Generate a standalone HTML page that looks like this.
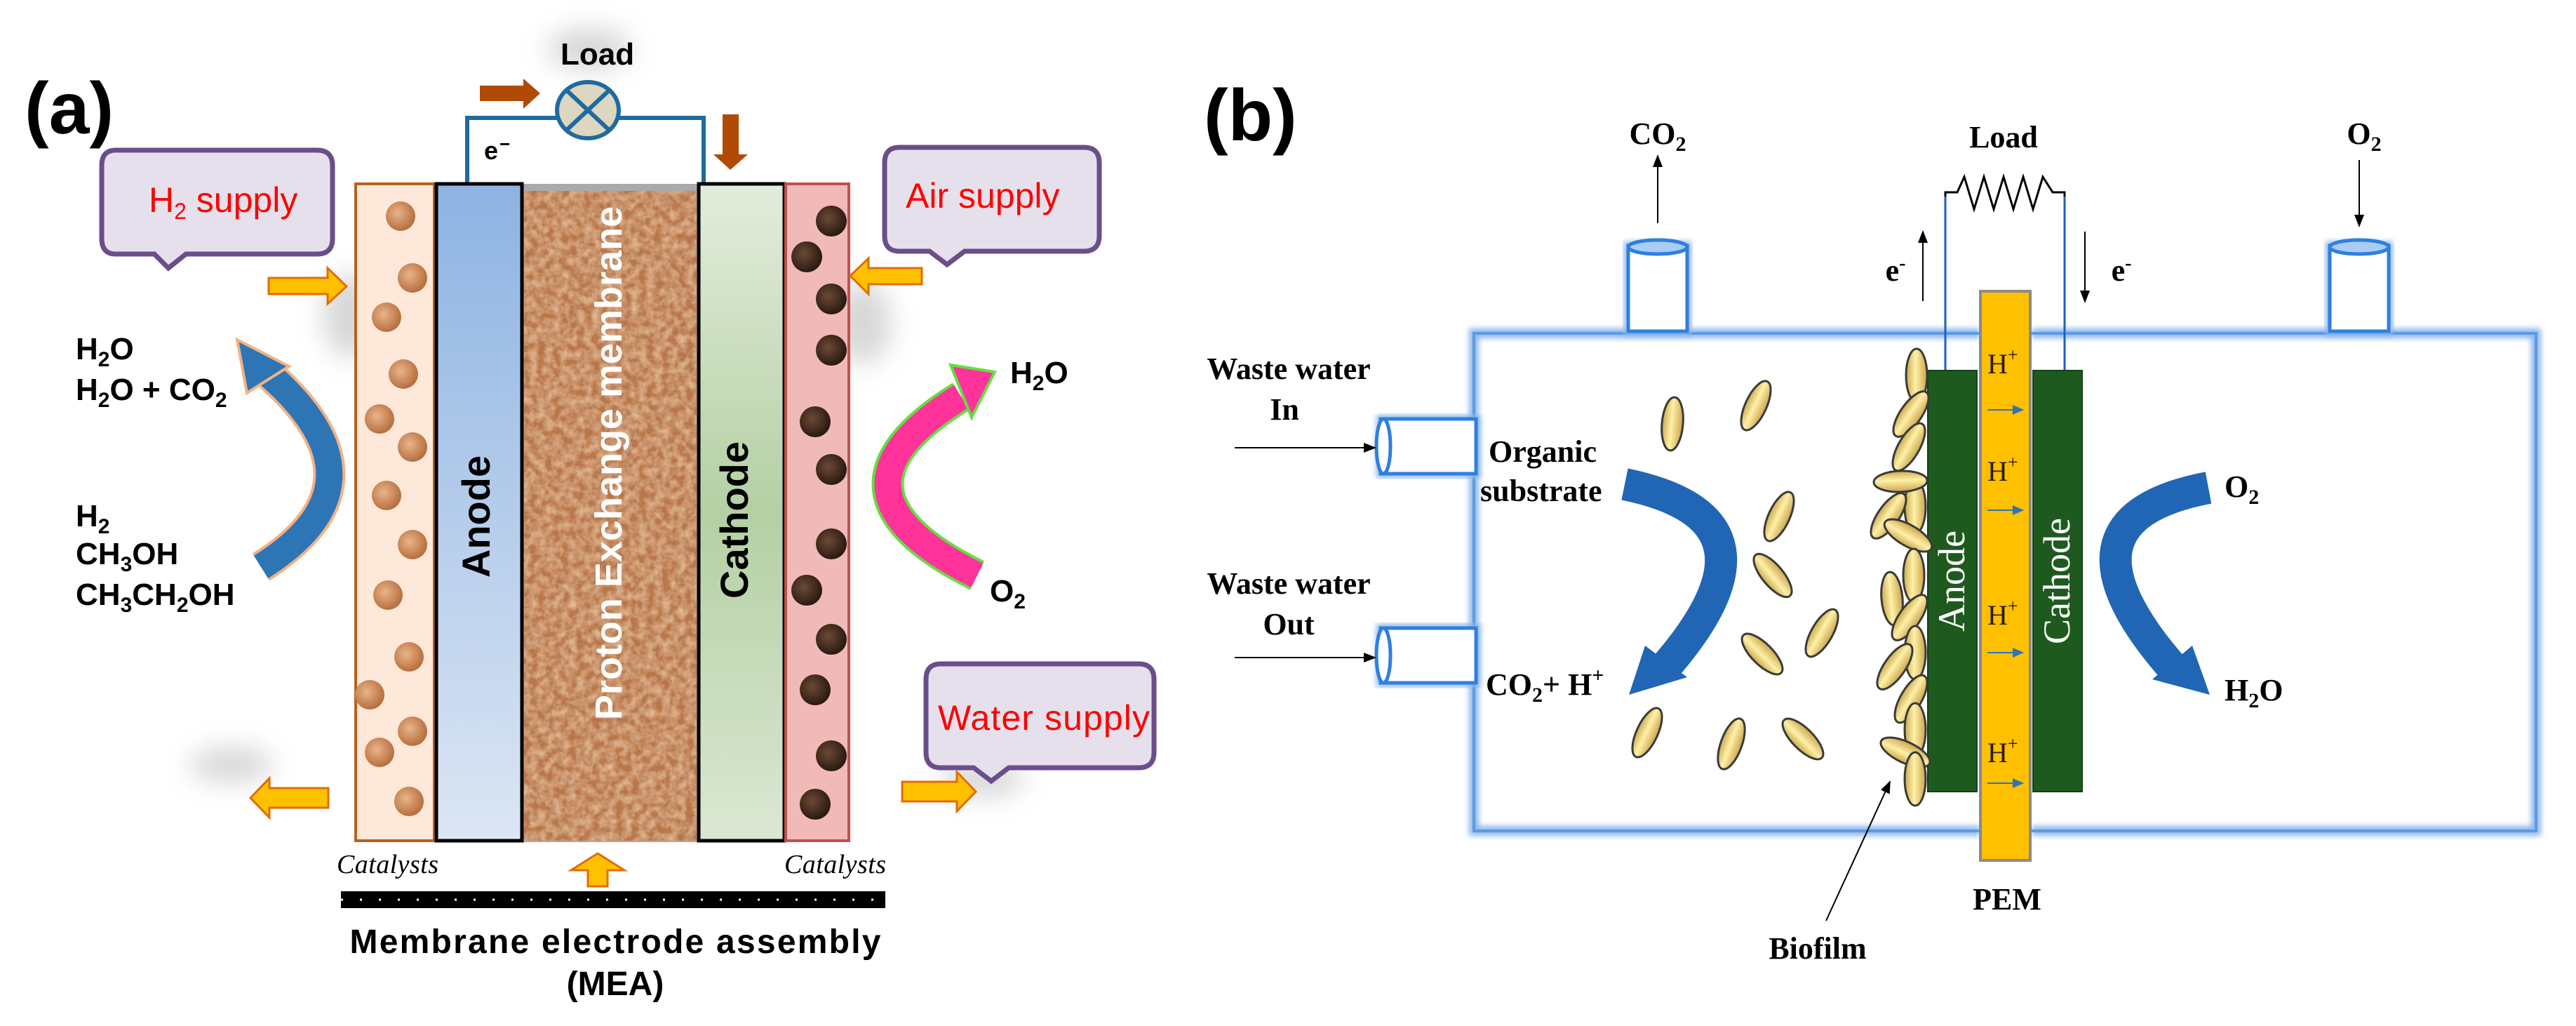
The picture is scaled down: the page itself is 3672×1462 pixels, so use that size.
<!DOCTYPE html>
<html><head><meta charset="utf-8"><style>
html,body{margin:0;padding:0;background:#fff;}
svg{display:block;}
.sa{font-family:"Liberation Sans",sans-serif;}
.se{font-family:"Liberation Serif",serif;font-weight:bold;}
</style></head><body>
<svg width="3672" height="1462" viewBox="0 0 3672 1462" xmlns="http://www.w3.org/2000/svg">
<defs>
<filter id="tex" x="0" y="0" width="100%" height="100%">
<feTurbulence type="fractalNoise" baseFrequency="0.09" numOctaves="3" seed="4" result="n"/>
<feColorMatrix in="n" type="matrix" values="0 0 0 0 0.80  0 0 0 0 0.52  0 0 0 0 0.32  0 0 0 -1.6 1.1" result="c"/>
<feFlood flood-color="#b9774a" result="f"/>
<feComposite in="c" in2="f" operator="over"/>
</filter>
<filter id="glow" x="-10%" y="-10%" width="120%" height="120%"><feGaussianBlur stdDeviation="4"/></filter>
<filter id="blur" x="-50%" y="-50%" width="200%" height="200%"><feGaussianBlur stdDeviation="18"/></filter>
<linearGradient id="gA" x1="0" y1="0" x2="0" y2="1"><stop offset="0" stop-color="#8db3e2"/><stop offset="1" stop-color="#dce6f4"/></linearGradient>
<linearGradient id="gC" x1="0" y1="0" x2="0" y2="1"><stop offset="0" stop-color="#e3ecdc"/><stop offset="0.5" stop-color="#b4d0a4"/><stop offset="1" stop-color="#dbe7d3"/></linearGradient>
<radialGradient id="gL" cx="0.4" cy="0.4" r="0.6"><stop offset="0" stop-color="#e9b48a"/><stop offset="1" stop-color="#b86f3e"/></radialGradient>
<radialGradient id="gR" cx="0.4" cy="0.4" r="0.6"><stop offset="0" stop-color="#6b4a36"/><stop offset="1" stop-color="#2b1a10"/></radialGradient>
<linearGradient id="gB" x1="0" y1="0" x2="1" y2="0"><stop offset="0" stop-color="#c9a84a"/><stop offset="0.45" stop-color="#fff0a8"/><stop offset="1" stop-color="#c9a44a"/></linearGradient>
<marker id="ah" markerWidth="10" markerHeight="10" refX="9" refY="5" orient="auto" markerUnits="userSpaceOnUse"><path d="M0,0 L10,5 L0,10 z" fill="#000"/></marker>
<marker id="ah2" markerWidth="18" markerHeight="18" refX="16" refY="9" orient="auto" markerUnits="userSpaceOnUse"><path d="M0,2 L18,9 L0,16 z" fill="#000"/></marker>
<marker id="ahb" markerWidth="16" markerHeight="14" refX="15" refY="7" orient="auto" markerUnits="userSpaceOnUse"><path d="M0,0 L16,7 L0,14 z" fill="#2e75b6"/></marker>
<g id="ell"><ellipse cx="0" cy="0" rx="15" ry="38" fill="url(#gB)" stroke="#3a3a3a" stroke-width="3"/></g>
</defs>

<!-- ============ PANEL (a) ============ -->
<!-- soft shadows -->
<g filter="url(#blur)" fill="#bdbdbd" opacity="0.6">
<ellipse cx="330" cy="1090" rx="60" ry="25"/><ellipse cx="1400" cy="1110" rx="60" ry="25"/>
<ellipse cx="1230" cy="460" rx="40" ry="60"/><ellipse cx="500" cy="450" rx="40" ry="60"/>
<ellipse cx="840" cy="70" rx="60" ry="30"/>
</g>
<text x="35" y="190" class="sa" font-size="104" font-weight="bold">(a)</text>

<!-- circuit -->
<polyline points="666,262 666,168 1003,168 1003,262" fill="none" stroke="#1f6aa0" stroke-width="6"/>
<ellipse cx="838" cy="157" rx="44" ry="40" fill="#ddd6c0" stroke="#1f6aa0" stroke-width="6"/>
<line x1="808" y1="129" x2="868" y2="185" stroke="#1f6aa0" stroke-width="6"/>
<line x1="868" y1="129" x2="808" y2="185" stroke="#1f6aa0" stroke-width="6"/>
<text x="799" y="92" class="sa" font-size="44" font-weight="bold">Load</text>
<polygon points="684,122 746,122 746,112 770,133 746,155 746,144 684,144" fill="#b04a04"/>
<polygon points="1030,163 1053,163 1053,220 1066,220 1041,242 1017,220 1030,220" fill="#b04a04"/>
<text x="690" y="227" class="sa" font-size="36" font-weight="bold">e</text>
<text x="712" y="214" class="sa" font-size="26" font-weight="bold">−</text>

<!-- layers -->
<rect x="507" y="262" width="112" height="936" fill="#fde8d9" stroke="#b8601e" stroke-width="4"/>
<rect x="745" y="262" width="250" height="938" fill="#aaa"/>
<rect x="747" y="272" width="246" height="926" filter="url(#tex)"/>
<rect x="622" y="262" width="122" height="936" fill="url(#gA)" stroke="#000" stroke-width="5"/>
<rect x="996" y="262" width="122" height="936" fill="url(#gC)" stroke="#000" stroke-width="5"/>
<rect x="1120" y="262" width="90" height="936" fill="#f2b9b9" stroke="#c0504d" stroke-width="4"/>

<!-- catalyst dots -->
<g fill="url(#gL)">
<circle cx="571" cy="308" r="21"/><circle cx="588" cy="396" r="21"/><circle cx="551" cy="452" r="21"/>
<circle cx="575" cy="533" r="21"/><circle cx="541" cy="597" r="21"/><circle cx="588" cy="637" r="21"/>
<circle cx="551" cy="706" r="21"/><circle cx="588" cy="776" r="21"/><circle cx="553" cy="848" r="21"/>
<circle cx="583" cy="936" r="21"/><circle cx="527" cy="990" r="21"/><circle cx="588" cy="1042" r="21"/>
<circle cx="541" cy="1072" r="21"/><circle cx="583" cy="1142" r="21"/>
</g>
<g fill="url(#gR)">
<circle cx="1185" cy="315" r="22"/><circle cx="1150" cy="366" r="22"/><circle cx="1185" cy="426" r="22"/>
<circle cx="1185" cy="499" r="22"/><circle cx="1162" cy="601" r="22"/><circle cx="1185" cy="669" r="22"/>
<circle cx="1185" cy="775" r="22"/><circle cx="1150" cy="841" r="22"/><circle cx="1185" cy="911" r="22"/>
<circle cx="1162" cy="983" r="22"/><circle cx="1185" cy="1077" r="22"/><circle cx="1162" cy="1146" r="22"/>
</g>

<text transform="translate(698,736) rotate(-90)" text-anchor="middle" class="sa" font-size="56" font-weight="bold">Anode</text>
<text transform="translate(1066,741) rotate(-90)" text-anchor="middle" class="sa" font-size="56" font-weight="bold">Cathode</text>
<text transform="translate(886,660) rotate(-90)" text-anchor="middle" class="sa" font-size="54" font-weight="bold" fill="#fff">Proton Exchange membrane</text>

<!-- callouts -->
<path d="M165,214 H452 Q474,214 474,236 V340 Q474,362 452,362 H265 L240,382 L220,362 H165 Q145,362 145,340 V236 Q145,214 165,214 Z" fill="#e6e0ec" stroke="#6a4e8a" stroke-width="7"/>
<text x="212" y="302" class="sa" font-size="50" fill="#f00">H<tspan font-size="32" dy="10">2</tspan><tspan dy="-10"> supply</tspan></text>
<path d="M1282,210 H1545 Q1567,210 1567,232 V336 Q1567,358 1545,358 H1375 L1350,377 L1325,358 H1282 Q1261,358 1261,336 V232 Q1261,210 1282,210 Z" fill="#e6e0ec" stroke="#6a4e8a" stroke-width="7"/>
<text x="1291" y="296" class="sa" font-size="50" fill="#f00">Air supply</text>
<path d="M1341,946 H1623 Q1645,946 1645,968 V1072 Q1645,1094 1623,1094 H1438 L1413,1113 L1388,1094 H1341 Q1320,1094 1320,1072 V968 Q1320,946 1341,946 Z" fill="#e6e0ec" stroke="#6a4e8a" stroke-width="7"/>
<text x="1337" y="1040" class="sa" font-size="50" fill="#f00" textLength="302">Water supply</text>

<!-- yellow arrows -->
<g fill="#ffc000" stroke="#e36c09" stroke-width="3">
<polygon points="383,396 467,396 467,382 494,408 467,433 467,419 383,419"/>
<polygon points="1314,382 1238,382 1238,368 1212,393 1238,419 1238,405 1314,405"/>
<polygon points="468,1123 384,1123 384,1109 357,1137 384,1165 384,1151 468,1151"/>
<polygon points="1286,1114 1364,1114 1364,1100 1391,1128 1364,1156 1364,1142 1286,1142"/>
<polygon points="838,1263 838,1240 814,1240 852,1216 890,1240 866,1240 866,1263"/>
</g>

<!-- curved arrows (a) -->
<path d="M372,808 Q560,690 385,535" fill="none" stroke="#f4b183" stroke-width="46"/>
<path d="M372,808 Q560,690 385,535" fill="none" stroke="#2e75b6" stroke-width="38"/>
<polygon points="412,522 338,484 352,560" fill="#2e75b6" stroke="#f4b183" stroke-width="4"/>
<path d="M1393,820 Q1150,700 1370,565" fill="none" stroke="#66dd44" stroke-width="46"/>
<path d="M1393,820 Q1150,700 1370,565" fill="none" stroke="#ff3399" stroke-width="38"/>
<polygon points="1355,520 1418,530 1385,595" fill="#ff3399" stroke="#66dd44" stroke-width="4"/>

<g class="sa" font-size="44" font-weight="bold">
<text x="108" y="512">H<tspan font-size="30" dy="10">2</tspan><tspan dy="-10">O</tspan></text>
<text x="108" y="570">H<tspan font-size="30" dy="10">2</tspan><tspan dy="-10">O + CO</tspan><tspan font-size="30" dy="10">2</tspan></text>
<text x="108" y="750">H<tspan font-size="30" dy="10">2</tspan></text>
<text x="108" y="804">CH<tspan font-size="30" dy="10">3</tspan><tspan dy="-10">OH</tspan></text>
<text x="108" y="862">CH<tspan font-size="30" dy="10">3</tspan><tspan dy="-10">CH</tspan><tspan font-size="30" dy="10">2</tspan><tspan dy="-10">OH</tspan></text>
<text x="1440" y="546">H<tspan font-size="30" dy="10">2</tspan><tspan dy="-10">O</tspan></text>
<text x="1411" y="857">O<tspan font-size="30" dy="10">2</tspan></text>
</g>

<text x="480" y="1244" class="se" font-style="italic" font-size="38" font-weight="normal" textLength="145" style="font-weight:normal">Catalysts</text>
<text x="1118" y="1244" class="se" font-style="italic" font-size="38" textLength="145" style="font-weight:normal">Catalysts</text>
<line x1="486" y1="1282" x2="1262" y2="1282" stroke="#000" stroke-width="24"/>
<line x1="486" y1="1282" x2="1262" y2="1282" stroke="#fff" stroke-width="3" stroke-dasharray="3 24"/>
<text x="877" y="1358" text-anchor="middle" class="sa" font-size="48" font-weight="bold" textLength="757">Membrane electrode assembly</text>
<text x="877" y="1418" text-anchor="middle" class="sa" font-size="48" font-weight="bold">(MEA)</text>

<!-- ============ PANEL (b) ============ -->
<text x="1716" y="200" class="sa" font-size="104" font-weight="bold">(b)</text>

<!-- main box glow -->
<g fill="none" stroke="#8fb8ea" stroke-width="14" filter="url(#glow)">
<path d="M2822,475 H2101 V1184 H2822"/>
<path d="M2896,475 H3615 V1184 H2896"/>
</g>
<g fill="none" stroke="#5b9be0" stroke-width="4">
<path d="M2822,475 H2101 V1184 H2822"/>
<path d="M2896,475 H3615 V1184 H2896"/>
</g>

<!-- chimneys -->
<g fill="#fff" stroke="#2f7fe0" stroke-width="5">
<rect x="2321" y="350" width="84" height="122" filter="url(#glow)" stroke="#8fb8ea" stroke-width="12"/>
<rect x="2321" y="350" width="84" height="122"/>
<ellipse cx="2363" cy="352" rx="42" ry="10" fill="#a9cdf5"/>
<rect x="3321" y="350" width="84" height="122" filter="url(#glow)" stroke="#8fb8ea" stroke-width="12"/>
<rect x="3321" y="350" width="84" height="122"/>
<ellipse cx="3363" cy="352" rx="42" ry="10" fill="#a9cdf5"/>
<rect x="1968" y="597" width="136" height="78" filter="url(#glow)" stroke="#8fb8ea" stroke-width="12"/>
<rect x="1968" y="597" width="136" height="78"/>
<ellipse cx="1972" cy="636" rx="10" ry="39"/>
<rect x="1968" y="895" width="136" height="78" filter="url(#glow)" stroke="#8fb8ea" stroke-width="12"/>
<rect x="1968" y="895" width="136" height="78"/>
<ellipse cx="1972" cy="934" rx="10" ry="39"/>
</g>

<line x1="2363" y1="318" x2="2363" y2="222" stroke="#000" stroke-width="2" marker-end="url(#ah2)"/>
<line x1="3363" y1="228" x2="3363" y2="322" stroke="#000" stroke-width="2" marker-end="url(#ah2)"/>
<line x1="1760" y1="638" x2="1960" y2="638" stroke="#000" stroke-width="2" marker-end="url(#ah2)"/>
<line x1="1760" y1="937" x2="1960" y2="937" stroke="#000" stroke-width="2" marker-end="url(#ah2)"/>

<g class="se" font-size="44">
<text x="2363" y="205" text-anchor="middle">CO<tspan font-size="30" dy="10">2</tspan></text>
<text x="3370" y="205" text-anchor="middle">O<tspan font-size="30" dy="10">2</tspan></text>
<text x="2856" y="210" text-anchor="middle">Load</text>
<text x="1837" y="540" text-anchor="middle">Waste water</text>
<text x="1831" y="598" text-anchor="middle">In</text>
<text x="1837" y="846" text-anchor="middle">Waste water</text>
<text x="1837" y="904" text-anchor="middle">Out</text>
<text x="2122" y="658">Organic</text>
<text x="2110" y="714">substrate</text>
<text x="2118" y="990">CO<tspan font-size="30" dy="10">2</tspan><tspan dy="-10">+ H</tspan><tspan font-size="30" dy="-18">+</tspan></text>
<text x="3171" y="708">O<tspan font-size="30" dy="10">2</tspan></text>
<text x="3171" y="998">H<tspan font-size="30" dy="10">2</tspan><tspan dy="-10">O</tspan></text>
<text x="2861" y="1296" text-anchor="middle">PEM</text>
<text x="2591" y="1366" text-anchor="middle">Biofilm</text>
<text x="2702" y="400" text-anchor="middle">e<tspan font-size="28" dy="-16">-</tspan></text>
<text x="3024" y="400" text-anchor="middle">e<tspan font-size="28" dy="-16">-</tspan></text>
</g>

<!-- load resistor & wires -->
<polyline points="2773,528 2773,274 2790,274 2800,252 2814,298 2828,252 2842,298 2856,252 2870,298 2884,252 2898,298 2912,252 2926,274 2943,274 2943,528" fill="none" stroke="#000" stroke-width="3"/>
<line x1="2773" y1="528" x2="2773" y2="280" stroke="#1f5fbf" stroke-width="3"/>
<line x1="2943" y1="528" x2="2943" y2="280" stroke="#1f5fbf" stroke-width="3"/>
<line x1="2741" y1="429" x2="2741" y2="330" stroke="#000" stroke-width="2" marker-end="url(#ah2)"/>
<line x1="2972" y1="330" x2="2972" y2="430" stroke="#000" stroke-width="2" marker-end="url(#ah2)"/>

<!-- PEM & electrodes -->
<rect x="2823" y="415" width="71" height="811" fill="#ffc000" stroke="#8a8a8a" stroke-width="4"/>
<rect x="2748" y="528" width="70" height="600" fill="#1e5a1e" stroke="#12401a" stroke-width="2"/>
<rect x="2898" y="528" width="70" height="600" fill="#1e5a1e" stroke="#12401a" stroke-width="2"/>
<text transform="translate(2800,828) rotate(-90)" text-anchor="middle" font-family="Liberation Serif,serif" font-size="54" fill="#fff">Anode</text>
<text transform="translate(2950,828) rotate(-90)" text-anchor="middle" font-family="Liberation Serif,serif" font-size="54" fill="#fff">Cathode</text>
<g font-family="Liberation Serif,serif" font-size="40" fill="#2a1a00">
<text x="2833" y="532">H<tspan font-size="26" dy="-18">+</tspan></text>
<text x="2833" y="685">H<tspan font-size="26" dy="-18">+</tspan></text>
<text x="2833" y="890">H<tspan font-size="26" dy="-18">+</tspan></text>
<text x="2833" y="1086">H<tspan font-size="26" dy="-18">+</tspan></text>
</g>
<g stroke="#2e75b6" stroke-width="2">
<line x1="2833" y1="584" x2="2884" y2="584" marker-end="url(#ahb)"/>
<line x1="2833" y1="727" x2="2884" y2="727" marker-end="url(#ahb)"/>
<line x1="2833" y1="930" x2="2884" y2="930" marker-end="url(#ahb)"/>
<line x1="2833" y1="1116" x2="2884" y2="1116" marker-end="url(#ahb)"/>
</g>

<!-- blue curved arrows (b) -->
<path d="M2316,690 Q2560,740 2370,955" fill="none" stroke="#2166b5" stroke-width="46"/>
<polygon points="2322,990 2345,920 2405,965" fill="#2166b5"/>
<path d="M3148,695 Q2910,740 3100,955" fill="none" stroke="#2166b5" stroke-width="46"/>
<polygon points="3150,990 3068,968 3125,920" fill="#2166b5"/>

<!-- free bacteria -->
<use href="#ell" transform="translate(2384,604) rotate(5)"/>
<use href="#ell" transform="translate(2503,578) rotate(25)"/>
<use href="#ell" transform="translate(2536,736) rotate(25)"/>
<use href="#ell" transform="translate(2527,820) rotate(-40)"/>
<use href="#ell" transform="translate(2597,902) rotate(30)"/>
<use href="#ell" transform="translate(2512,932) rotate(-45)"/>
<use href="#ell" transform="translate(2348,1044) rotate(25)"/>
<use href="#ell" transform="translate(2468,1060) rotate(20)"/>
<use href="#ell" transform="translate(2570,1053) rotate(-45)"/>
<!-- biofilm -->
<use href="#ell" transform="translate(2732,535) rotate(0)"/>
<use href="#ell" transform="translate(2724,590) rotate(35)"/>
<use href="#ell" transform="translate(2721,637) rotate(30)"/>
<use href="#ell" transform="translate(2730,722) rotate(0)"/>
<use href="#ell" transform="translate(2709,686) rotate(88)"/>
<use href="#ell" transform="translate(2692,735) rotate(35)"/>
<use href="#ell" transform="translate(2720,763) rotate(-60)"/>
<use href="#ell" transform="translate(2728,820) rotate(0)"/>
<use href="#ell" transform="translate(2697,853) rotate(-5)"/>
<use href="#ell" transform="translate(2722,880) rotate(35)"/>
<use href="#ell" transform="translate(2730,930) rotate(0)"/>
<use href="#ell" transform="translate(2701,950) rotate(35)"/>
<use href="#ell" transform="translate(2724,996) rotate(30)"/>
<use href="#ell" transform="translate(2730,1040) rotate(0)"/>
<use href="#ell" transform="translate(2716,1072) rotate(-65)"/>
<use href="#ell" transform="translate(2730,1110) rotate(0)"/>
<line x1="2603" y1="1312" x2="2694" y2="1114" stroke="#000" stroke-width="2" marker-end="url(#ah2)"/>
</svg>
</body></html>
